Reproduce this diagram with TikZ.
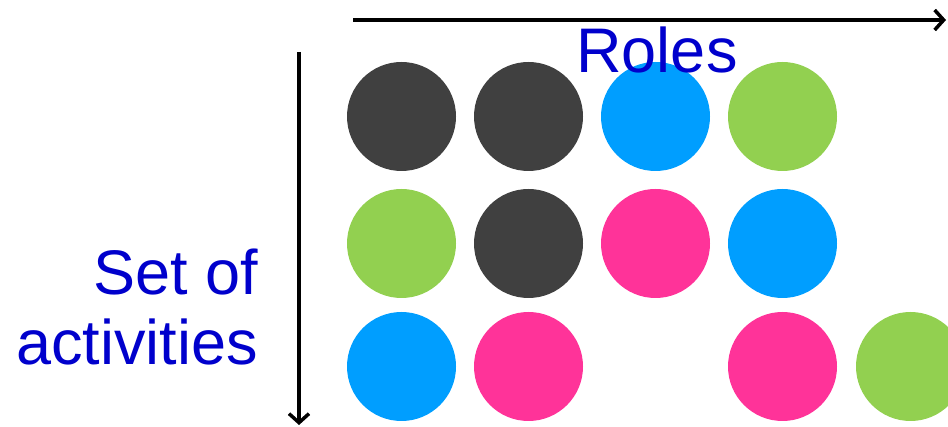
\documentclass[tikz,border=0pt]{standalone}
\usepackage{fontspec}
\setmainfont{Liberation Sans}
\usetikzlibrary{arrows.meta}
\definecolor{cdark}{HTML}{404040}
\definecolor{cblue}{HTML}{009EFF}
\definecolor{cgreen}{HTML}{92D050}
\definecolor{cpink}{HTML}{FF3399}
\definecolor{ctext}{HTML}{0000CC}
\tikzset{
  dot/.style={circle, minimum size=109pt, inner sep=0pt, draw=none, fill=#1},
  axis/.style={line width=3.5pt, -{Straight Barb[length=9pt,width=20pt,line width=3.5pt]}},
  lbl/.style={text=ctext, font=\fontsize{63}{70}\selectfont, inner sep=0pt}
}
\begin{document}
\begin{tikzpicture}[x=1pt,y=-1pt]
\useasboundingbox (0,0) rectangle (948,427);
\clip (0,0) rectangle (948,427);
% row 1
\node[dot=cdark]  (a11) at (401.5,116.5) {};
\node[dot=cdark]  (a12) at (528.5,116.5) {};
\node[dot=cblue]  (a13) at (655.5,116.5) {};
\node[dot=cgreen] (a14) at (782.5,116.5) {};
% row 2
\node[dot=cgreen] (a21) at (401.5,243.5) {};
\node[dot=cdark]  (a22) at (528.5,243.5) {};
\node[dot=cpink]  (a23) at (655.5,243.5) {};
\node[dot=cblue]  (a24) at (782.5,243.5) {};
% row 3
\node[dot=cblue]  (a31) at (401.5,366.5) {};
\node[dot=cpink]  (a32) at (528.5,366.5) {};
\node[dot=cpink]  (a34) at (782.5,366.5) {};
\node[dot=cgreen] (a35) at (910.5,366.5) {};
% axes
\coordinate (hs) at (353,20);
\coordinate (he) at (946,20);
\coordinate (vs) at (299,52);
\coordinate (ve) at (299,425);
\draw[axis] (hs) -- (he);
\draw[axis] (vs) -- (ve);
% labels
\node[lbl, anchor=base] (roles) at (657,73) {Roles};
\node[lbl, anchor=base east] (set) at (258,295) {Set of};
\node[lbl, anchor=base east] (act) at (258,365) {activities};
\end{tikzpicture}
\end{document}
